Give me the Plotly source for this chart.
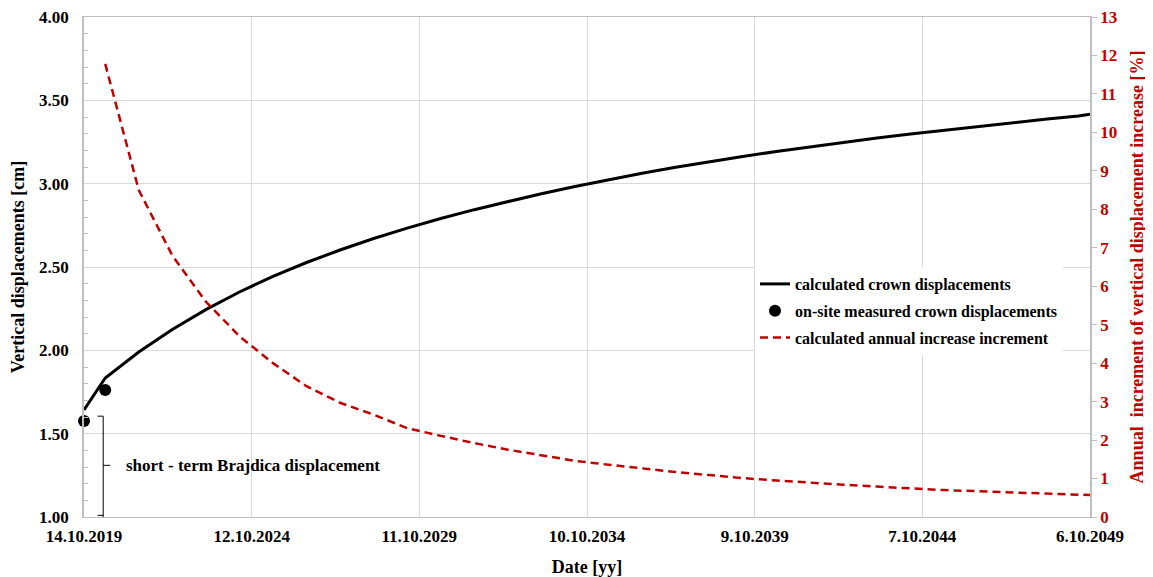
import plotly.graph_objects as go

# ---------------- data ----------------
calc_dates = ["2019-10-14"] + [f"{y}-06-01" for y in range(2020, 2050)] + ["2049-10-06"]
crown_calc = [1.642, 1.834, 1.990, 2.125, 2.244, 2.350, 2.444, 2.527, 2.602, 2.671,
              2.733, 2.791, 2.844, 2.894, 2.940, 2.983, 3.024, 3.062, 3.098, 3.132,
              3.163, 3.193, 3.221, 3.248, 3.274, 3.298, 3.321, 3.343, 3.365, 3.386,
              3.406, 3.416]

incr_dates = [f"{y}-06-01" for y in range(2020, 2050)] + ["2049-10-06"]
annual_incr = [11.78, 8.50, 6.80, 5.60, 4.70, 4.00, 3.40, 2.97, 2.66, 2.31,
               2.11, 1.92, 1.75, 1.60, 1.46, 1.36, 1.26, 1.17, 1.09, 1.01,
               0.95, 0.89, 0.84, 0.79, 0.74, 0.70, 0.67, 0.64, 0.615, 0.59, 0.57]

meas_dates = ["2019-10-14", "2020-06-01"]
crown_meas = [1.576, 1.762]

x_start = "2019-10-14"
x_end = "2049-10-06"
tick_step_days = 1825

RED = "#C00000"
GRID = "#d9d9d9"
AXC = "#bfbfbf"
FONT = "Liberation Serif"

fig = go.Figure()
fig.add_trace(go.Scatter(x=calc_dates, y=crown_calc, mode="lines",
                         name="<b>calculated crown displacements</b>", legendgroup="a",
                         line=dict(color="black", width=3)))
fig.add_trace(go.Scatter(x=meas_dates, y=crown_meas, mode="markers",
                         name="<b>on-site measured crown displacements</b>", legendgroup="b",
                         marker=dict(color="black", size=12), cliponaxis=False))
fig.add_trace(go.Scatter(x=incr_dates, y=annual_incr, mode="lines",
                         name="<b>calculated annual increase increment</b>", legendgroup="c",
                         line=dict(color=RED, width=2.5, dash="8px,5px"),
                         yaxis="y2"))

# bracket annotation for short-term displacement
bx = "2020-05-10"
bl = "2020-03-10"
for (xa, xb, ya, yb) in [(bx, bx, 1.0, 1.605), (bl, bx, 1.605, 1.605),
                         (bl, bx, 1.01, 1.01), (bx, "2020-07-25", 1.31, 1.31)]:
    fig.add_shape(type="line", xref="x", yref="y", x0=xa, x1=xb, y0=ya, y1=yb,
                  line=dict(color="black", width=1))
fig.add_annotation(x="2020-12-25", y=1.31, xref="x", yref="y",
                   text="<b>short - term Brajdica displacement</b>", showarrow=False,
                   xanchor="left", yanchor="middle",
                   font=dict(family=FONT, size=17, color="black"))

# the page body adds an 8px offset: plot area lands at x 84..1090, y 17..517 on screen
fig.update_layout(
    width=1145, height=569,
    margin=dict(l=76, r=63, t=9, b=60, autoexpand=False),
    plot_bgcolor="white", paper_bgcolor="white",
    font=dict(family=FONT, size=17, color="black"),
    showlegend=True,
    legend=dict(x=0.667, y=0.5, xanchor="left", yanchor="top",
                bgcolor="white", borderwidth=0,
                font=dict(family=FONT, size=16, color="black"),
                itemwidth=30, tracegroupgap=3),
    xaxis=dict(type="date", range=[x_start, x_end], automargin=False,
               tick0=x_start, dtick=tick_step_days * 86400000,
               tickformat="%-d.%m.%Y", tickprefix="<b>", ticksuffix="</b>",
               showgrid=True, gridcolor=GRID, gridwidth=1,
               showline=True, linecolor=AXC, linewidth=1, mirror=True,
               ticks="", ticklabelstandoff=4, ticklabeloverflow="allow",
               tickfont=dict(family=FONT, size=17, color="black"),
               title=dict(text="<b>Date [yy]</b>", font=dict(family=FONT, size=18), standoff=15),
               zeroline=False),
    yaxis=dict(range=[1.0, 4.0], dtick=0.5, tickformat=".2f", automargin=False,
               tickprefix="<b>", ticksuffix="</b>",
               showgrid=True, gridcolor=GRID, gridwidth=1,
               showline=True, linecolor=AXC, linewidth=1.5,
               ticks="", ticklabelstandoff=10, ticklabeloverflow="allow",
               tickfont=dict(family=FONT, size=17, color="black"),
               minor=dict(dtick=0.1, ticks="inside", ticklen=4, tickcolor=AXC, showgrid=False),
               title=dict(text="<b>Vertical displacements [cm]</b>", font=dict(family=FONT, size=18), standoff=10),
               zeroline=False),
    yaxis2=dict(range=[0, 13], dtick=1, overlaying="y", side="right", automargin=False,
                tickprefix="<b>", ticksuffix="</b>",
                showgrid=False, showline=True, linecolor=AXC, linewidth=1.5,
                ticks="outside", ticklen=5, tickcolor=AXC, ticklabeloverflow="allow",
                tickfont=dict(family=FONT, size=17, color=RED),
                title=dict(text="<b>Annual  increment of vertical displacement increase [%]</b>",
                           font=dict(family=FONT, size=18, color=RED), standoff=14),
                zeroline=False),
)

fig.write_html("out.html")
